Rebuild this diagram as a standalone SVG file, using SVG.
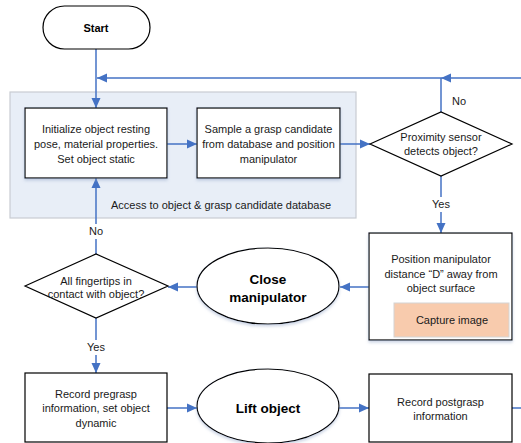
<svg xmlns="http://www.w3.org/2000/svg" width="521" height="443" viewBox="0 0 521 443">
<style>
.box{fill:#ffffff;stroke:#000000;stroke-width:1.2}
.t{font-family:"Liberation Sans",Arial,sans-serif;font-size:11px;fill:#1a1a1a;text-anchor:middle}
.b{font-family:"Liberation Sans",Arial,sans-serif;font-weight:bold;fill:#000000;text-anchor:middle}
.c{fill:none;stroke:#4472c4;stroke-width:1.5}
.lbl{fill:#ffffff}
</style>
<defs>
<marker id="ah" viewBox="0 0 10 10" refX="10" refY="5" markerWidth="10" markerHeight="10" markerUnits="userSpaceOnUse" orient="auto">
<path d="M0,0.5 L10,5 L0,9.5 Z" fill="#4472c4"/>
</marker>
<filter id="sh" x="-10%" y="-10%" width="120%" height="130%">
<feDropShadow dx="0" dy="2" stdDeviation="1.5" flood-color="#8ea2c4" flood-opacity="0.45"/>
</filter>
</defs>
<rect width="521" height="443" fill="#ffffff"/>
<g id="region">
<rect x="10" y="92" width="346" height="126" fill="#e8eef7" stroke="#c8ccd2" stroke-width="1.2"/>
<text class="t" x="221" y="209">Access to object &amp; grasp candidate database</text>
</g>
<g id="connectors">
<path class="c" d="M96,49 V108" marker-end="url(#ah)"/>
<path class="c" d="M521,78 H441" marker-end="url(#ah)"/>
<path class="c" d="M441,78 H97" marker-end="url(#ah)"/>
<path class="c" d="M441,112 V78"/>
<path class="c" d="M167,144 H197" marker-end="url(#ah)"/>
<path class="c" d="M340,144 H370" marker-end="url(#ah)"/>
<path class="c" d="M441,176 V233" marker-end="url(#ah)"/>
<path class="c" d="M369,287 H340" marker-end="url(#ah)"/>
<path class="c" d="M197,287 H168" marker-end="url(#ah)"/>
<path class="c" d="M96,254 V178" marker-end="url(#ah)"/>
<path class="c" d="M96,318 V373" marker-end="url(#ah)"/>
<path class="c" d="M167,408 H197" marker-end="url(#ah)"/>
<path class="c" d="M339,408 H369" marker-end="url(#ah)"/>
<path class="c" d="M512,408 H521"/>
<text class="t" x="459" y="105">No</text>
<rect class="lbl" x="428" y="197" width="26" height="15"/>
<text class="t" x="441" y="208">Yes</text>
<rect class="lbl" x="85" y="224" width="22" height="15"/>
<text class="t" x="96" y="235">No</text>
<rect class="lbl" x="83" y="340" width="26" height="15"/>
<text class="t" x="96" y="351">Yes</text>
</g>
<g id="start">
<rect x="43" y="6" width="107" height="43" rx="21.5" class="box"/>
<text class="b" x="96" y="32" font-size="11">Start</text>
</g>
<g id="init">
<rect x="25" y="108" width="142" height="70" class="box" filter="url(#sh)"/>
<text class="t" x="96" y="133">Initialize object resting</text>
<text class="t" x="96" y="148">pose, material properties.</text>
<text class="t" x="96" y="163">Set object static</text>
</g>
<g id="sample">
<rect x="197" y="108" width="143" height="70" class="box" filter="url(#sh)"/>
<text class="t" x="268.5" y="133">Sample a grasp candidate</text>
<text class="t" x="268.5" y="148">from database and position</text>
<text class="t" x="268.5" y="163">manipulator</text>
</g>
<g id="proximity">
<polygon points="370,144 441,112 512,144 441,176" class="box"/>
<text class="t" x="441" y="141">Proximity sensor</text>
<text class="t" x="441" y="155">detects object?</text>
</g>
<g id="position">
<rect x="369" y="233" width="143" height="107" class="box" filter="url(#sh)"/>
<text class="t" x="441" y="263">Position manipulator</text>
<text class="t" x="441" y="278">distance “D” away from</text>
<text class="t" x="441" y="292">object surface</text>
<rect x="394" y="303" width="115" height="34" fill="#f8cbad" stroke="#d4d4d4" stroke-width="1"/>
<text class="t" x="452" y="324">Capture image</text>
</g>
<g id="close">
<ellipse cx="268" cy="286" rx="71" ry="38" class="box" filter="url(#sh)"/>
<text class="b" x="268" y="284" font-size="13.5">Close</text>
<text class="b" x="268" y="302" font-size="13.5">manipulator</text>
</g>
<g id="fingertips">
<polygon points="25,286 96,254 168,286 96,318" class="box"/>
<text class="t" x="96" y="285">All fingertips in</text>
<text class="t" x="96" y="298">contact with object?</text>
</g>
<g id="pregrasp">
<rect x="25" y="373" width="142" height="69" class="box"/>
<text class="t" x="96" y="398">Record pregrasp</text>
<text class="t" x="96" y="412">information, set object</text>
<text class="t" x="96" y="427">dynamic</text>
</g>
<g id="lift">
<ellipse cx="268" cy="406" rx="71" ry="37" class="box" filter="url(#sh)"/>
<text class="b" x="268" y="413" font-size="13.5">Lift object</text>
</g>
<g id="postgrasp">
<rect x="369" y="374" width="143" height="68" class="box"/>
<text class="t" x="440.5" y="406">Record postgrasp</text>
<text class="t" x="440.5" y="420">information</text>
</g>
</svg>
